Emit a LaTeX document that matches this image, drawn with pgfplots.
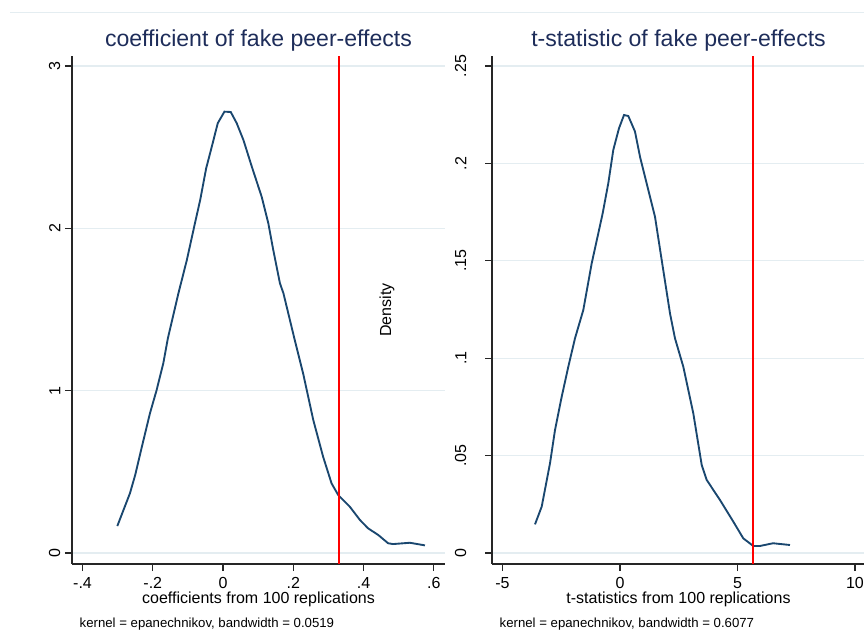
\documentclass[border=0pt]{standalone}
\usepackage{fontspec}
\setmainfont{Liberation Sans}
\usepackage{pgfplots}
\pgfplotsset{compat=1.18}
\definecolor{stnavy}{RGB}{26,71,111}
\definecolor{titlecol}{RGB}{30,45,90}
\definecolor{gridcol}{RGB}{228,237,241}

\pgfplotsset{
  every axis title shift=0pt,
  stata/.style={
    scale only axis,
    width=279.75pt, height=381pt,
    anchor=south west,
    axis x line*=bottom, axis y line*=left,
    axis line style={-, line width=0.9pt, color=black!85},
    tick align=outside,
    major tick length=5.25pt,
    tick style={line width=0.9pt, color=black!85},
    ymajorgrids,
    grid style={line width=0.9pt, color=gridcol},
    tick label style={font=\fontsize{12}{14}\selectfont},
    xticklabel style={anchor=base, yshift=-12.75pt},
    yticklabel style={rotate=90, anchor=south},
    label style={font=\fontsize{12}{14}\selectfont},
    xlabel style={at={(axis description cs:0.5,0)}, anchor=base, yshift=-30pt},
    title style={font=\fontsize{17.3}{20}\selectfont, color=titlecol, anchor=base, at={(axis description cs:0.5,1)}, yshift=7pt},
    clip=false,
  }
}

\begin{document}
\begin{tikzpicture}
\useasboundingbox (0,0) rectangle (648pt,479.25pt);
\draw[line width=0.6pt, color=gridcol] (7.5pt,470.25pt) -- (648pt,470.25pt);

% Left panel
\begin{axis}[stata,
  at={(54pt,56.25pt)},
  xmin=-0.43, xmax=0.632, ymin=-0.0678, ymax=3.062,
  xtick={-0.4,-0.2,0,0.2,0.4,0.6}, xticklabels={-.4,-.2,0,.2,.4,.6},
  ytick={0,1,2,3}, yticklabels={0,1,2,3},
  title={coefficient of fake peer-effects},
  xlabel={coefficients from 100 replications},
]
\addplot[color=stnavy, line width=1.4pt] coordinates {
(-0.301,0.166) (-0.265,0.368) (-0.250,0.481) (-0.231,0.655) (-0.208,0.861)
(-0.189,1.004) (-0.170,1.169) (-0.157,1.323) (-0.127,1.600) (-0.103,1.805)
(-0.080,2.031) (-0.065,2.175) (-0.048,2.370) (-0.032,2.503) (-0.015,2.648)
(0.004,2.719) (0.022,2.717) (0.039,2.648) (0.058,2.545) (0.082,2.380)
(0.110,2.195) (0.129,2.031) (0.143,1.867) (0.162,1.662) (0.172,1.600)
(0.203,1.323) (0.228,1.107) (0.257,0.819) (0.285,0.593) (0.309,0.429)
(0.328,0.357) (0.361,0.285) (0.390,0.203) (0.413,0.152) (0.442,0.111)
(0.470,0.060) (0.484,0.055) (0.532,0.063) (0.575,0.047)
};
\addplot[color=red, line width=1.4pt] coordinates {(0.33,-0.0678) (0.33,3.062)};
\node[anchor=base west, font=\fontsize{9.9}{12}\selectfont, xshift=2.25pt, yshift=-47.25pt]
  at (axis description cs:0,0) {kernel = epanechnikov, bandwidth = 0.0519};
\end{axis}

% Right panel
\begin{axis}[stata,
  at={(369pt,56.25pt)},
  xmin=-5.447, xmax=10.426, ymin=-0.00565, ymax=0.2551,
  xtick={-5,0,5,10}, xticklabels={-5,0,5,10},
  ytick={0,0.05,0.1,0.15,0.2,0.25}, yticklabels={0,.05,.1,.15,.2,.25},
  yticklabel style={yshift=10.5pt},
  title={t-statistic of fake peer-effects},
  xlabel={t-statistics from 100 replications},
  ylabel={Density},
  ylabel style={at={(axis description cs:0,0.5)}, anchor=center, yshift=78.75pt},
]
\addplot[color=stnavy, line width=1.4pt] coordinates {
(-3.617,0.0147) (-3.332,0.0238) (-2.979,0.0460) (-2.766,0.0631) (-2.481,0.0802)
(-2.200,0.0956) (-1.915,0.1102) (-1.562,0.1247) (-1.204,0.1487) (-0.923,0.1641)
(-0.736,0.1744) (-0.498,0.1898) (-0.285,0.2069) (-0.043,0.2180) (0.170,0.2248)
(0.353,0.2243) (0.638,0.2163) (0.851,0.2034) (1.204,0.1863) (1.489,0.1726)
(1.774,0.1504) (2.128,0.1230) (2.340,0.1102) (2.694,0.0956) (3.119,0.0717)
(3.477,0.0452) (3.689,0.0375) (4.255,0.0272) (4.821,0.0161) (5.247,0.0075)
(5.672,0.0036) (5.957,0.0036) (6.511,0.0050) (7.234,0.0041)
};
\addplot[color=red, line width=1.4pt] coordinates {(5.65,-0.00565) (5.65,0.2551)};
\node[anchor=base west, font=\fontsize{9.9}{12}\selectfont, xshift=2.25pt, yshift=-47.25pt]
  at (axis description cs:0,0) {kernel = epanechnikov, bandwidth = 0.6077};
\end{axis}
\end{tikzpicture}
\end{document}
